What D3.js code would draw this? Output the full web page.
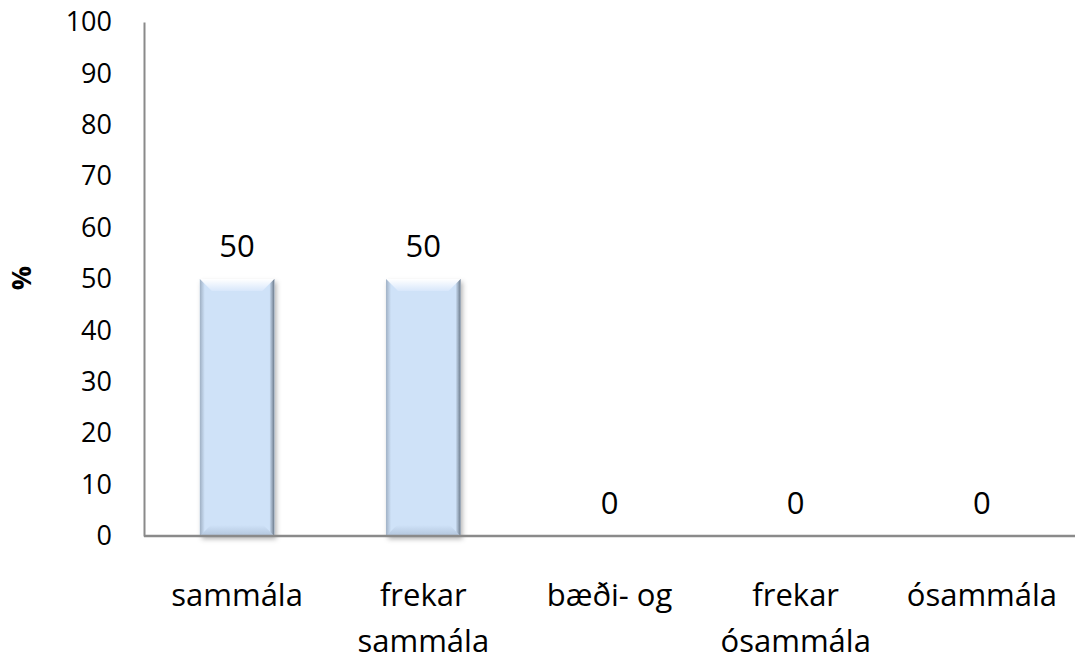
<!DOCTYPE html>
<html><head><meta charset="utf-8">
<script src="https://cdn.jsdelivr.net/npm/d3@7"></script>
<style>body{margin:0;background:#fff}svg{display:block}text{font-family:"Open Sans",sans-serif;fill:#000}</style>
</head><body><svg id="c" width="1075" height="661"></svg>
<script>
const categories = [["sammála"],["frekar","sammála"],["bæði- og"],["frekar","ósammála"],["ósammála"]];
const values = [50, 50, 0, 0, 0];
const yTicks = [0,10,20,30,40,50,60,70,80,90,100];

const svg = d3.select("#c");
const L = 144, R = 1075, T = 22, B = 536;
const x = d3.scaleBand().domain(d3.range(categories.length)).range([L, R]).paddingInner(0.6).paddingOuter(0.3);
const y = d3.scaleLinear().domain([0, 100]).range([B, T]);
const bw = x.bandwidth();

const defs = svg.append("defs");
const f = defs.append("filter").attr("id","sh").attr("x","-20%").attr("y","-10%").attr("width","150%").attr("height","130%");
f.append("feDropShadow").attr("dx",2).attr("dy",3).attr("stdDeviation",2.5).attr("flood-color","#000").attr("flood-opacity",0.3);
function grad(id, x2, y2, stops) {
  const g = defs.append("linearGradient").attr("id",id).attr("x1",0).attr("y1",0).attr("x2",x2).attr("y2",y2);
  stops.forEach(([o,c]) => g.append("stop").attr("offset",o).attr("stop-color",c));
}
grad("gt",0,1,[[0,"#ffffff"],[1,"#d8e7fb"]]);
grad("gb",0,1,[[0,"#cfe2f8"],[1,"#b2c5dc"]]);
grad("gl",1,0,[[0,"#9fb0c4"],[1,"#cfe2f8"]]);
grad("gr",1,0,[[0,"#cfe2f8"],[1,"#6c7a8a"]]);

// bars
const bg = svg.append("g");
values.forEach((d, i) => {
  if (d <= 0) return;
  const g = bg.append("g");
  const x0 = x(i), y0 = y(d), x1 = x0 + bw, y1 = y(0), tb = 12, bb = 11, sw = 5;
  g.append("rect").attr("x",x0).attr("y",y0).attr("width",bw).attr("height",y1-y0).attr("fill","#cfe2f8").attr("filter","url(#sh)");
  g.append("rect").attr("x",x0).attr("y",y0).attr("width",sw).attr("height",y1-y0).attr("fill","url(#gl)");
  g.append("rect").attr("x",x1-sw).attr("y",y0).attr("width",sw).attr("height",y1-y0).attr("fill","url(#gr)");
  g.append("polygon").attr("points",`${x0},${y0} ${x1},${y0} ${x1-tb},${y0+tb} ${x0+tb},${y0+tb}`).attr("fill","url(#gt)");
  g.append("polygon").attr("points",`${x0},${y1} ${x0+bb},${y1-bb} ${x1-bb},${y1-bb} ${x1},${y1}`).attr("fill","url(#gb)");
});

// y axis
const ya = svg.append("g").attr("transform",`translate(${L},0)`).call(d3.axisLeft(y).tickValues(yTicks).tickSize(0).tickPadding(32));
ya.select(".domain").attr("stroke","#8a8a8a").attr("stroke-width",2);
ya.selectAll("text").style("font-size","27px").style("font-family","'Open Sans',sans-serif").attr("fill","#000");

// x axis line
svg.append("line").attr("x1",L).attr("x2",R).attr("y1",B).attr("y2",B).attr("stroke","#8a8a8a").attr("stroke-width",2.5);

// value labels
svg.append("g").selectAll("text").data(values).join("text")
  .attr("x",(d,i)=>x(i)+bw/2).attr("y",d=>y(d)-22)
  .attr("text-anchor","middle").style("font-size","31px").text(d=>d);

// category labels
const cl = svg.append("g").selectAll("text").data(categories).join("text")
  .attr("x",(d,i)=>x(i)+bw/2).attr("y",606).attr("text-anchor","middle").style("font-size","31px");
cl.selectAll("tspan").data(d=>d).join("tspan").attr("x",function(){return this.parentNode.getAttribute("x");})
  .attr("dy",(d,j)=>j===0?0:46).text(d=>d);

// y title
svg.append("text").attr("transform","translate(31,278) rotate(-90)").attr("text-anchor","middle")
  .style("font-size","27px").style("font-weight","bold").text("%");
</script></body></html>
